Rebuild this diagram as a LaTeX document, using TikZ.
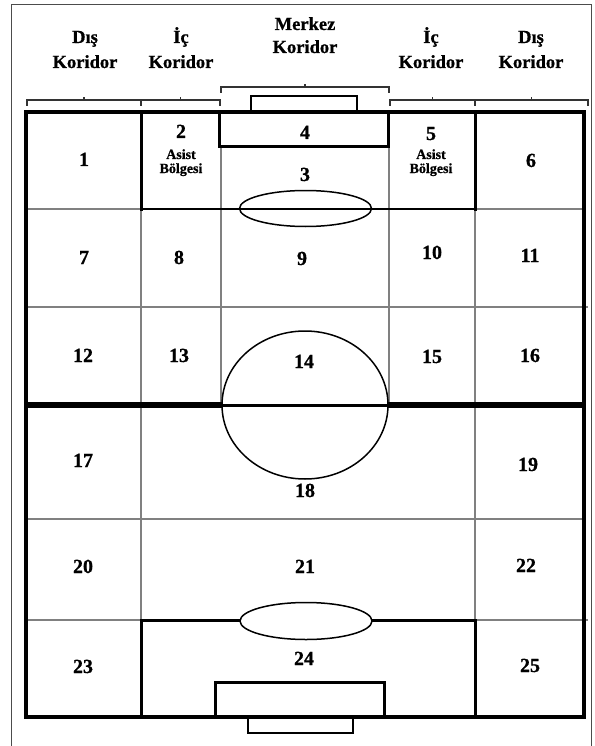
\documentclass[tikz,border=0pt]{standalone}
\usepackage{fontspec}
\setmainfont{Liberation Serif}
\newfontfamily\hvy{Liberation Serif Bold}[FakeBold=0.8]
\begin{document}
\begin{tikzpicture}[x=1pt,y=-1pt,
  lbl/.style={font=\hvy\fontsize{20}{21}\selectfont, inner sep=0pt, anchor=base},
  hdr/.style={font=\hvy\fontsize{18.5}{20}\selectfont, inner sep=0pt, anchor=base},
  sublbl/.style={font=\hvy\fontsize{14}{14}\selectfont, inner sep=0pt, anchor=base},
  gridline/.style={draw=black!50, line width=1.3pt},
  heavy/.style={draw=black, line width=3.5pt},
  boxline/.style={draw=black, line width=3pt},
  fine/.style={draw=black, line width=1.5pt},
  br/.style={draw=black!80, line width=1.3pt},
  framel/.style={draw=black!70, line width=1.2pt}]
\useasboundingbox (0,0) rectangle (594,746);
\fill[white] (0,0) rectangle (594,746);
% outer frame
\draw[framel] (11.5,760) -- (11.5,4.5) -- (591.5,4.5) -- (591.5,760);
% thin grid lines
\draw[gridline] (26,209) -- (141,209);
\draw[gridline] (475,209) -- (584,209);
\draw[gridline] (26,307) -- (588,307);
\draw[gridline] (26,519) -- (584,519);
\draw[gridline] (26,620) -- (141,620);
\draw[gridline] (475,620) -- (588,620);
\draw[gridline] (141,209) -- (141,620);
\draw[gridline] (475,209) -- (475,620);
\draw[gridline] (221,147) -- (221,405);
\draw[gridline] (389,147) -- (389,405);
% penalty areas
\draw[boxline, line cap=rect] (141,112) -- (141,209);
\draw[boxline, line cap=rect] (475,112) -- (475,209);
\draw[draw=black, line width=2.5pt] (141,209) -- (475,209);
\draw[boxline] (141,717) -- (141,620) -- (475,620) -- (475,717);
% goal areas and goals
\draw[boxline] (219,112) rectangle (388,147);
\draw[fine] (251,96) rectangle (357,112);
\draw[boxline] (215,717) rectangle (384,682);
\draw[fine] (248,717) rectangle (353,733);
% halfway line
\draw[draw=black, line width=6pt] (26,405) -- (222,405);
\draw[draw=black, line width=6pt] (388,405) -- (584,405);
\draw[draw=black, line width=3pt] (222,405) -- (388,405);
% circles
\draw[fine] (305,405) ellipse [x radius=83, y radius=74];
\draw[fine] (305.5,208.5) ellipse [x radius=66, y radius=18];
\draw[fine, fill=white] (306,621) ellipse [x radius=66, y radius=18.5];
% outer field
\draw[heavy] (26,112) rectangle (584,717);
% brackets
\foreach \a/\b/\y in {27/141/100, 141/220/100, 390/475/100, 475/588/100, 221/389/87}{
  \draw[br] (\a,{\y+6}) -- (\a,\y) -- (\b,\y) -- (\b,{\y+6});
  \draw[br] ({(\a+\b)/2},\y) -- ({(\a+\b)/2},{\y-3});
}
% headers
\node[hdr] (h1a) at (85,43) {Dış};
\node[hdr] (h1b) at (85,68) {Koridor};
\node[hdr] (h2a) at (181,43) {İç};
\node[hdr] (h2b) at (181,68) {Koridor};
\node[hdr] (h3a) at (305,30) {Merkez};
\node[hdr] (h3b) at (305,53) {Koridor};
\node[hdr] (h4a) at (431,43) {İç};
\node[hdr] (h4b) at (431,68) {Koridor};
\node[hdr] (h5a) at (531,43) {Dış};
\node[hdr] (h5b) at (531,68) {Koridor};
% zone numbers
\node[lbl] (z1) at (84,166) {1};
\node[lbl] (z2) at (181,138) {2};
\node[sublbl] (z2a) at (181,159) {Asist};
\node[sublbl] (z2b) at (181,173) {Bölgesi};
\node[lbl] (z4) at (305,139) {4};
\node[lbl] (z3) at (305,181) {3};
\node[lbl] (z5) at (431,140) {5};
\node[sublbl] (z5a) at (431,159) {Asist};
\node[sublbl] (z5b) at (431,173) {Bölgesi};
\node[lbl] (z6) at (531,167) {6};
\node[lbl] (z7) at (84,264) {7};
\node[lbl] (z8) at (179,264) {8};
\node[lbl] (z9) at (302,265) {9};
\node[lbl] (z10) at (432,259) {10};
\node[lbl] (z11) at (530,262) {11};
\node[lbl] (z12) at (83,362) {12};
\node[lbl] (z13) at (179,362) {13};
\node[lbl] (z14) at (304,368) {14};
\node[lbl] (z15) at (432,363) {15};
\node[lbl] (z16) at (530,362) {16};
\node[lbl] (z17) at (83,467) {17};
\node[lbl] (z18) at (305,497) {18};
\node[lbl] (z19) at (528,471) {19};
\node[lbl] (z20) at (83,573) {20};
\node[lbl] (z21) at (305,573) {21};
\node[lbl] (z22) at (526,572) {22};
\node[lbl] (z23) at (83,673) {23};
\node[lbl] (z24) at (304,665) {24};
\node[lbl] (z25) at (530,672) {25};
\end{tikzpicture}
\end{document}
